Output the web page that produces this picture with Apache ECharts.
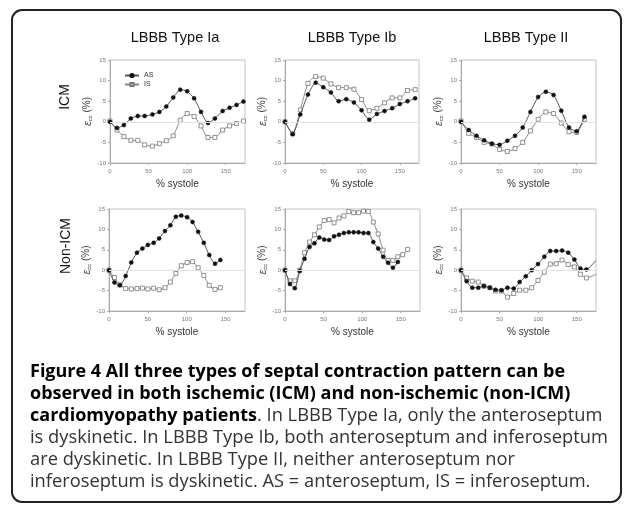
<!DOCTYPE html>
<html>
<head>
<meta charset="utf-8">
<script src="https://cdn.jsdelivr.net/npm/echarts@6/dist/echarts.min.js"></script>
<style>
  html, body { margin: 0; padding: 0; background: #fff; }
  #fig { width: 633px; height: 513px; }
</style>
</head>
<body>
<div id="fig"></div>
<script>
// ICM, LBBB Type Ia
const icmIaX  = [0, 9, 18, 27, 36, 45, 55, 64, 73, 82, 91, 100, 109, 118, 127, 136, 146, 155, 164, 173];
const icmIaAS = [0, -1.5, -0.8, 0.8, 1.4, 1.4, 1.8, 2.4, 3.7, 5.9, 7.8, 7.4, 5.7, 2.4, -0.3, 0.8, 2.6, 3.4, 4.1, 4.9];
const icmIaIS = [0.2, -2.0, -3.6, -4.5, -4.5, -5.6, -5.9, -5.3, -4.6, -3.4, 0.4, 2.0, 1.3, -1.0, -3.8, -3.8, -2.0, -1.0, -0.4, 0.2];

// ICM, LBBB Type Ib
const icmIbX  = [0, 10, 20, 30, 40, 50, 60, 70, 80, 90, 100, 110, 120, 130, 140, 150, 160, 170];
const icmIbAS = [0, -3.0, 1.8, 6.6, 9.5, 8.4, 7.1, 5.0, 5.5, 4.7, 2.8, 0.5, 1.9, 2.6, 3.3, 4.3, 5.0, 5.7];
const icmIbIS = [0, -2.9, 2.9, 9.3, 11.0, 10.6, 9.2, 8.3, 8.3, 7.9, 5.4, 2.7, 3.3, 4.6, 5.8, 5.8, 7.6, 7.8];

// ICM, LBBB Type II
const icmIIX  = [0, 10, 20, 30, 40, 50, 60, 70, 80, 90, 100, 110, 120, 130, 140, 150, 160];
const icmIIAS = [0, -2.0, -3.4, -4.5, -5.3, -5.6, -4.6, -3.4, -1.4, 2.4, 6.0, 7.3, 6.5, 2.7, -1.4, -2.3, 1.2];
const icmIIIS = [0.2, -2.8, -3.8, -5.0, -5.4, -6.7, -7.2, -6.5, -5.0, -2.2, 0.6, 2.4, 2.0, -0.3, -2.4, -2.6, 0.6];

// Non-ICM, LBBB Type Ia
const nonIaX  = [0, 7, 14, 21.5, 28.7, 36, 43, 50, 57.5, 64.5, 72, 79, 86, 93, 100.5, 107.5, 114.7, 122, 129, 136.4, 143.3];
const nonIaAS = [0, -3.0, -3.7, -1.4, 1.9, 4.3, 5.3, 6.2, 6.7, 7.8, 9.6, 11.0, 13.1, 13.4, 13.0, 11.8, 9.4, 6.7, 3.7, 1.6, 2.5];
const nonIaIS = [0, -1.8, -3.6, -4.5, -4.6, -4.5, -4.4, -4.6, -4.4, -4.8, -4.3, -2.9, -0.8, 1.1, 1.9, 2.1, 0.6, -1.3, -3.7, -4.7, -4.3];

// Non-ICM, LBBB Type Ib
const nonIbX  = [0, 6.4, 12.7, 19.1, 25.4, 31.8, 38.2, 44.5, 50.9, 57.2, 63.6, 70, 76.3, 82.7, 89, 95.4, 101.8, 108.1, 114.5, 120.8, 127.2, 133.6, 139.9, 146.3, 152.6, 159];
const nonIbAS = [0, -3.4, -4.4, -0.2, 2.8, 5.7, 6.6, 8.0, 7.5, 7.4, 8.3, 8.7, 9.1, 9.3, 9.3, 9.3, 9.1, 9.1, 6.9, 5.3, 3.3, 1.8, 0.6, 2.0];
const nonIbIS = [0, -2.6, -2.6, 0, 4.3, 6.9, 8.7, 10.6, 12.2, 12.4, 11.6, 12.8, 13.3, 14.4, 14.1, 14.1, 14.5, 14.4, 11.8, 8.9, 4.9, 2.4, 2.4, 3.3, 3.8, 5.1];

// Non-ICM, LBBB Type II (the trace runs on to the right edge of the box)
const nonIIX  = [0, 7.3, 14.6, 22.4, 29.7, 37.4, 44.7, 52.5, 60.2, 68.4, 76, 84, 91.6, 99.8, 108, 115.7, 123.4, 131, 139, 147, 154.8, 162.6, 175];
const nonIIAS = [0, -2.7, -4.3, -4.3, -3.9, -4.3, -4.8, -4.9, -4.3, -4.5, -2.9, -1.5, 0, 1.5, 3.3, 4.7, 4.7, 4.8, 4.3, 2.6, 0.4, 0.2, 2.4];
const nonIIIS = [0, -1.9, -2.7, -2.9, -3.9, -4.3, -5.1, -5.1, -6.6, -5.7, -4.9, -4.9, -4.3, -2.5, -0.5, 1.5, 1.6, 2.5, 1.4, 0.8, -1.0, -1.9, -1.0];

const panelTitles = ['LBBB Type Ia', 'LBBB Type Ib', 'LBBB Type II'];
const rowLabels = ['ICM', 'Non-ICM'];
const yTicks = { min: -10, max: 15, interval: 5 };
const xTicks = { min: 0, max: 175, interval: 50 };

const panels = [
  { x: icmIaX, as: icmIaAS, is: icmIaIS },
  { x: icmIbX, as: icmIbAS, is: icmIbIS },
  { x: icmIIX, as: icmIIAS, is: icmIIIS },
  { x: nonIaX, as: nonIaAS, is: nonIaIS },
  { x: nonIbX, as: nonIbAS, is: nonIbIS },
  { x: nonIIX, as: nonIIAS, is: nonIIIS }
];

// plot boxes in pixels
const boxes = [
  { left: 110, top: 60, width: 135, height: 103 },
  { left: 285, top: 60, width: 134, height: 103 },
  { left: 461, top: 60, width: 135, height: 103 },
  { left: 109, top: 209, width: 136, height: 102 },
  { left: 285, top: 209, width: 135, height: 102 },
  { left: 461, top: 209, width: 135, height: 102 }
];

const font = 'Liberation Sans, Arial, sans-serif';
// points sitting on the right edge only carry the line, no marker
const zip = (xs, ys) => ys.map((y, i) =>
  xs[i] >= xTicks.max ? { value: [xs[i], y], symbol: 'none' } : [xs[i], y]);

let myChart = echarts.init(document.querySelector('#fig'), null, {
  width: 633,
  height: 513,
  renderer: 'canvas'
});

const grid = boxes.map(b => ({
  left: b.left, top: b.top, width: b.width, height: b.height,
  show: true, borderColor: '#c4c4c4', borderWidth: 1, backgroundColor: '#fff'
}));

const xAxis = boxes.map((b, i) => ({
  type: 'value', gridIndex: i,
  min: xTicks.min, max: xTicks.max, interval: xTicks.interval,
  name: '% systole', nameLocation: 'middle', nameGap: 16,
  nameTextStyle: { fontFamily: font, fontSize: 10, color: '#333' },
  axisLine: { onZero: false, lineStyle: { color: '#aaa' } },
  axisTick: { length: 2, lineStyle: { color: '#aaa' } },
  axisLabel: { fontFamily: font, fontSize: 6, color: '#777', margin: 5, showMaxLabel: false },
  splitLine: { show: false }
}));

const yAxis = boxes.map((b, i) => ({
  type: 'value', gridIndex: i,
  min: yTicks.min, max: yTicks.max, interval: yTicks.interval,
  name: '{e|ε}{s|cc} (%)', nameLocation: 'middle', nameGap: 17,
  nameTextStyle: {
    fontFamily: font, fontSize: 10, color: '#444',
    rich: {
      e: { fontFamily: font, fontSize: 11, fontStyle: 'italic', color: '#444' },
      s: { fontFamily: font, fontSize: 6, color: '#444', verticalAlign: 'bottom', padding: [4, 0, 0, 0] }
    }
  },
  axisLine: { show: true, lineStyle: { color: '#aaa' } },
  axisTick: { show: true, length: 2, lineStyle: { color: '#aaa' } },
  axisLabel: { fontFamily: font, fontSize: 6, color: '#777', margin: 4 },
  splitLine: { show: false }
}));

const series = [];
panels.forEach((p, i) => {
  series.push({
    name: 'IS', type: 'line', xAxisIndex: i, yAxisIndex: i,
    data: zip(p.x, p.is), smooth: 0.2, clip: true,
    symbol: 'rect', symbolSize: 4,
    lineStyle: { color: '#8a8a8a', width: 1 },
    itemStyle: { color: '#fff', borderColor: '#777', borderWidth: 0.8 },
    markLine: {
      silent: true, symbol: 'none', label: { show: false },
      lineStyle: { color: '#e2e2e2', width: 1, type: 'solid' },
      data: [{ yAxis: 0 }]
    },
    z: 2
  });
  series.push({
    name: 'AS', type: 'line', xAxisIndex: i, yAxisIndex: i,
    data: zip(p.x, p.as), smooth: 0.2, clip: true,
    symbol: 'circle', symbolSize: 4,
    lineStyle: { color: '#555', width: 1 },
    itemStyle: { color: '#111', borderColor: '#111', borderWidth: 0.5 },
    z: 3
  });
});

const titleX = [175, 352, 526];
const graphic = [
  {
    type: 'rect', shape: { x: 12, y: 10, width: 609, height: 492, r: 10 },
    style: { fill: 'none', stroke: '#222', lineWidth: 2 }, z: 0
  }
];
panelTitles.forEach((t, i) => {
  graphic.push({
    type: 'text', x: titleX[i], y: 38,
    style: { text: t, fontFamily: font, fontSize: 14.5, fill: '#111', textAlign: 'center', textVerticalAlign: 'middle' }
  });
});
graphic.push({
  type: 'text', x: 65, y: 97, rotation: Math.PI / 2,
  style: { text: rowLabels[0], fontFamily: font, fontSize: 14, fill: '#111', textAlign: 'center', textVerticalAlign: 'middle' }
});
graphic.push({
  type: 'text', x: 66, y: 246, rotation: Math.PI / 2,
  style: { text: rowLabels[1], fontFamily: font, fontSize: 14, fill: '#111', textAlign: 'center', textVerticalAlign: 'middle' }
});

// caption
const capFont = '"Open Sans", "Noto Sans", sans-serif';
const capLines = [
  '{b|Figure 4 All three types of septal contraction pattern can be}',
  '{b|observed in both ischemic (ICM) and non-ischemic (non-ICM)}',
  '{b|cardiomyopathy patients}{n|. In LBBB Type Ia, only the anteroseptum}',
  '{n|is dyskinetic. In LBBB Type Ib, both anteroseptum and inferoseptum}',
  '{n|are dyskinetic. In LBBB Type II, neither anteroseptum nor}',
  '{n|inferoseptum is dyskinetic. AS = anteroseptum, IS = inferoseptum.}'
];
capLines.forEach((line, i) => {
  graphic.push({
    type: 'text', x: 30, y: 372 + i * 22,
    style: {
      text: line, textVerticalAlign: 'middle',
      rich: {
        b: { fontFamily: capFont, fontSize: 18, fontWeight: 'bold', fill: '#000', color: '#000' },
        n: { fontFamily: capFont, fontSize: 18.3, fill: '#333', color: '#333' }
      }
    }
  });
});

let option = {
  backgroundColor: '#fff',
  animation: false,
  grid: grid,
  xAxis: xAxis,
  yAxis: yAxis,
  legend: {
    data: ['AS', 'IS'],
    orient: 'vertical',
    left: 119, top: 67,
    itemWidth: 14, itemHeight: 4, itemGap: 2,
    selectedMode: false,
    textStyle: { fontFamily: font, fontSize: 7, color: '#333' }
  },
  series: series,
  graphic: graphic
};

myChart.setOption(option);
</script>
</body>
</html>
